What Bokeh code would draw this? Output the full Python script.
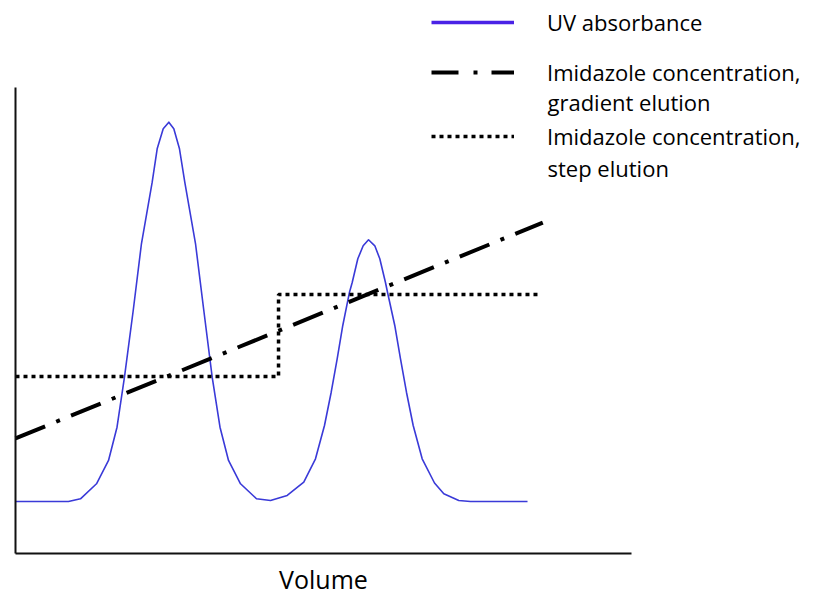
from bokeh.plotting import figure
from bokeh.models import Range1d, LinearAxis, FixedTicker, Legend, LegendItem, Label
from bokeh.embed import file_html
from bokeh.resources import INLINE

# ---- data (arbitrary units 0-100) ----
volume_uv = [0.0, 8.6, 10.55, 13.15, 15.1, 16.48, 17.69, 19.11, 20.45, 22.19,
             23.0, 23.98, 24.89, 25.7, 26.62, 27.48, 29.22, 30.57, 31.93, 33.2,
             34.58, 36.53, 39.12, 41.4,
             44.11, 46.8, 48.7, 50.16, 51.25, 52.22, 53.13, 54.22, 54.66, 55.57,
             56.44, 57.31, 58.33, 59.14, 60.06, 60.39, 61.57, 62.5, 63.47, 64.56,
             66.02, 68.02, 69.53, 71.96, 73.86, 83.12]
uv_absorbance = [11.16, 11.16, 11.74, 14.96, 19.96, 27.1, 37.83, 52.15, 66.52, 79.68,
                 86.85, 91.14, 92.55, 91.14, 86.85, 79.68, 66.52, 52.15, 37.83, 27.1,
                 19.96, 14.96, 11.74, 11.37,
                 12.45, 15.3, 20.32, 27.47, 34.61, 41.78, 48.93, 56.07, 58.15, 63.24,
                 66.03, 67.32, 66.03, 63.24, 58.15, 56.07, 48.93, 41.78, 34.61, 27.47,
                 20.32, 15.13, 12.81, 11.37, 11.16, 11.16]
gradient_volume = [0.0, 85.6]
gradient_conc = [24.7, 71.0]
step_volume = [0.0, 42.7, 42.7, 85.1]
step_conc = [38.0, 38.0, 55.6, 55.6]

x_title = "Volume"
legend_first_lines = ["UV absorbance", "Imidazole concentration,", "Imidazole concentration,"]
legend_second_lines = ["", "gradient elution", "step elution"]

FONT = "Open Sans"
UV_COLOR = "#3a3ad8"
UV_LEGEND_COLOR = "#4a22e6"
NAN = float("nan")

# ---- page layout (pixels) ----
W, H = 823, 595
ax_left_px, ax_right_px = 15, 631     # x = 0 .. 100
ax_bottom_px, ax_top_px = 553, 87     # y = 0 .. 100
kx = (ax_right_px - ax_left_px) / 100.0
ky = (ax_bottom_px - ax_top_px) / 100.0

def dx(px):
    return (px - ax_left_px) / kx

def dy(py):
    return (ax_bottom_px - py) / ky

p = figure(width=W, height=H, output_backend="svg", toolbar_location=None,
           x_range=Range1d(dx(0), dx(W)), y_range=Range1d(dy(H), dy(0)),
           x_axis_type=None, y_axis_type=None, min_border=0)
p.outline_line_color = None
p.background_fill_color = "white"
p.border_fill_color = "white"

axis_style = dict(ticker=FixedTicker(ticks=[]), major_tick_out=0, major_tick_in=0,
                  minor_tick_out=0, minor_tick_in=0, major_label_standoff=0,
                  axis_line_width=2, axis_line_color="#111111",
                  fixed_location=0, bounds=(0, 100))
xaxis = LinearAxis(**axis_style)
yaxis = LinearAxis(**axis_style)
p.add_layout(xaxis, "below")
p.add_layout(yaxis, "left")

# x axis title
p.add_layout(Label(x=50, y=dy(578), text=x_title, text_font=FONT,
                   text_font_size="25px", text_color="black",
                   text_align="center", text_baseline="alphabetic"))

# ---- data lines ----
p.line(volume_uv, uv_absorbance, line_color=UV_COLOR, line_width=1.6, line_join="round")
p.line(gradient_volume, gradient_conc, line_color="black", line_width=4,
       line_dash="32 12 4 12")
p.line(step_volume, step_conc, line_color="black", line_width=3.5, line_dash="4 4")

# ---- legend glyph renderers (legend-only styling, no visible data) ----
r_uv = p.line([NAN], [NAN], line_color=UV_LEGEND_COLOR, line_width=3.5)
r_grad = p.line([NAN], [NAN], line_color="black", line_width=4, line_dash="27 15 4 14")
r_step = p.line([NAN], [NAN], line_color="black", line_width=3.5, line_dash="4 4")

LEGEND_FS = "22px"
row_centres_px = [22, 72, 136]
second_line_px = [None, 101, 167]
item_h = 32
for r, lab, yc in zip([r_uv, r_grad, r_step], legend_first_lines, row_centres_px):
    lg = Legend(items=[LegendItem(label=lab, renderers=[r])],
                location=(431, (H - yc) - item_h / 2),
                glyph_width=83, glyph_height=item_h, label_height=item_h,
                label_standoff=33, padding=0, spacing=0, margin=0,
                border_line_alpha=0, background_fill_alpha=0,
                label_text_font=FONT, label_text_font_size=LEGEND_FS,
                label_text_color="black", label_text_baseline="middle")
    p.add_layout(lg)

for txt, yc in zip(legend_second_lines, second_line_px):
    if not txt:
        continue
    p.add_layout(Label(x=dx(547), y=dy(yc), text=txt, text_font=FONT,
                       text_font_size=LEGEND_FS, text_color="black",
                       text_baseline="middle", text_align="left"))

open("out.html", "w").write(file_html(p, INLINE))
